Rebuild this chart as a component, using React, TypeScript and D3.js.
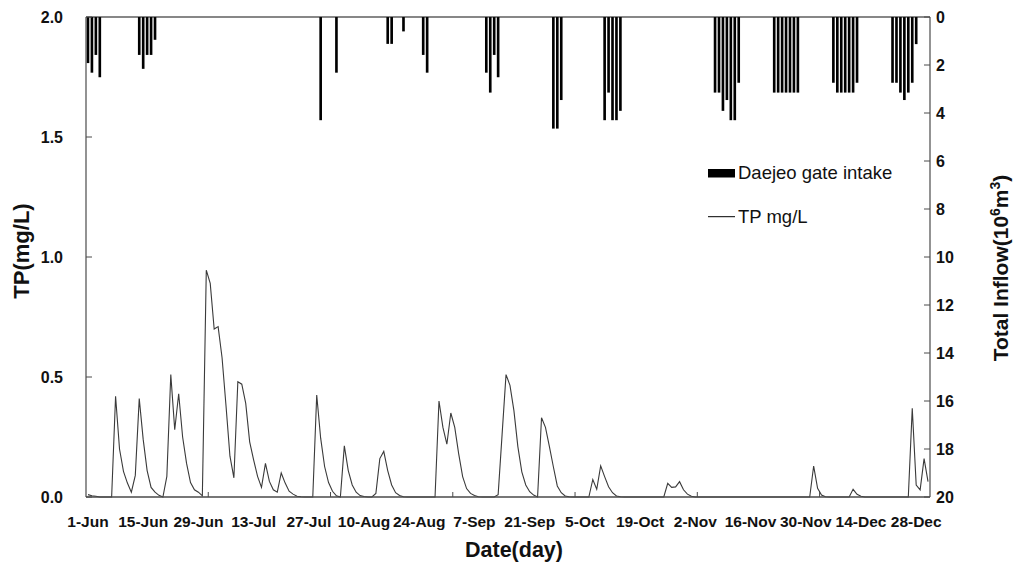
import * as d3 from "d3";

const width = 1022;
const height = 563;
const plot = { left: 86, right: 930, top: 17, bottom: 497 };
const font = "'Liberation Sans', Arial, sans-serif";

// TP (mg/L), one value per day, 1-Jun .. 31-Dec
const tpJun = [
  0.01, 0.005, 0.003, 0, 0, 0, 0, 0.42, 0.2, 0.107,
  0.058, 0.02, 0.09, 0.41, 0.24, 0.11, 0.04, 0.02, 0.007, 0,
  0.086, 0.51, 0.28, 0.43, 0.25, 0.14, 0.06, 0.03, 0.02, 0.005,
];
const tpJul = [
  0.945, 0.89, 0.7, 0.71, 0.58, 0.38, 0.17, 0.08, 0.48, 0.47,
  0.39, 0.23, 0.155, 0.086, 0.04, 0.14, 0.065, 0.03, 0.02, 0.1,
  0.058, 0.024, 0.012, 0.003, 0.001, 0, 0, 0, 0.425, 0.245,
  0.127,
];
const tpAug = [
  0.06, 0.024, 0.005, 0, 0.213, 0.11, 0.05, 0.02, 0.006, 0.002,
  0, 0, 0.015, 0.16, 0.19, 0.11, 0.05, 0.018, 0.006, 0.001,
  0, 0, 0, 0, 0, 0, 0, 0, 0.4, 0.29,
  0.22,
];
const tpSep = [
  0.35, 0.29, 0.18, 0.085, 0.035, 0.015, 0.006, 0.001, 0, 0,
  0, 0, 0.01, 0.26, 0.51, 0.465, 0.36, 0.21, 0.105, 0.05,
  0.022, 0.008, 0, 0.33, 0.29, 0.21, 0.126, 0.046, 0.018, 0.004,
];
const tpOct = [
  0.001, 0, 0, 0, 0, 0, 0.073, 0.032, 0.13, 0.085,
  0.043, 0.018, 0.004, 0.001, 0, 0, 0, 0, 0, 0,
  0, 0, 0, 0, 0, 0.057, 0.04, 0.042, 0.064, 0.03,
  0.012,
];
const tpNov = [
  0.003, 0, 0, 0, 0, 0, 0, 0, 0, 0,
  0, 0, 0, 0, 0, 0, 0, 0, 0, 0,
  0, 0, 0, 0, 0, 0, 0, 0, 0, 0,
];
const tpDec = [
  0, 0.129, 0.036, 0.008, 0.001, 0, 0, 0, 0, 0,
  0, 0.032, 0.011, 0.003, 0, 0, 0, 0, 0, 0,
  0, 0, 0, 0, 0, 0, 0.37, 0.05, 0.03, 0.16,
  0.064,
];
const tpValues = [...tpJun, ...tpJul, ...tpAug, ...tpSep, ...tpOct, ...tpNov, ...tpDec];

// Daejeo gate intake (10^6 m3): day index counted from 1-Jun, and volume
const intakeDays = [
  0, 1, 2, 3, 13, 14, 15, 16, 17, 59, 63, 76, 77, 80, 85, 86, 101, 102, 103, 104,
  118, 119, 120, 131, 132, 133, 134, 135, 159, 160, 161, 162, 163, 164, 165,
  174, 175, 176, 177, 178, 179, 180, 189, 190, 191, 192, 193, 194, 195,
  204, 205, 206, 207, 208, 209, 210,
];
const intakeValues = [
  1.92, 2.32, 1.58, 2.51, 1.58, 2.16, 1.58, 1.58, 0.95, 4.3, 2.32, 1.12, 1.12, 0.6, 1.58, 2.32, 2.32, 3.15, 1.58, 2.51,
  4.65, 4.65, 3.46, 4.3, 3.15, 4.3, 4.3, 3.91, 3.15, 3.15, 3.91, 3.46, 4.3, 4.3, 2.74,
  3.15, 3.15, 3.15, 3.15, 3.15, 3.15, 3.15, 2.74, 3.15, 3.15, 3.15, 3.15, 3.15, 2.74,
  2.74, 2.74, 3.15, 3.46, 3.15, 2.74, 1.13,
];

const dateTicks = [
  "1-Jun", "15-Jun", "29-Jun", "13-Jul", "27-Jul", "10-Aug", "24-Aug", "7-Sep",
  "21-Sep", "5-Oct", "19-Oct", "2-Nov", "16-Nov", "30-Nov", "14-Dec", "28-Dec",
];
const tpTicks = [0, 0.5, 1, 1.5, 2];
const inflowTicks = [0, 2, 4, 6, 8, 10, 12, 14, 16, 18, 20];

const fmtDay = d3.timeFormat("%-d-%b");
const days = d3.timeDay.range(new Date(2013, 5, 1), new Date(2014, 0, 1)).map(fmtDay);

export default function App() {
  const x = d3
    .scaleBand<string>()
    .domain(days)
    .range([plot.left, plot.right])
    .paddingInner(0.33)
    .paddingOuter(0.165);
  const bw = x.bandwidth();
  const step = x.step();
  const cx = (label: string) => (x(label) ?? 0) + bw / 2;

  const yTp = d3.scaleLinear().domain([0, 2]).range([plot.bottom, plot.top]);
  const yFlow = d3.scaleLinear().domain([0, 20]).range([plot.top, plot.bottom]);

  const line = d3
    .line<number>()
    .x((_, i) => cx(days[i]))
    .y((d) => yTp(d));

  // small upward marks on the date axis every 31 categories
  const monthMarks = d3.range(31, days.length, 31).map((k) => plot.left + k * step);

  const axisColor = "#4a4a4a";

  return (
    <svg
      width={width}
      height={height}
      style={{ position: "absolute", left: 0, top: 0, background: "#fff" }}
      fontFamily={font}
    >
      {/* bars hanging from the top */}
      {intakeDays.map((d, i) => (
        <rect
          key={"b" + i}
          x={x(days[d])}
          y={plot.top}
          width={bw}
          height={yFlow(intakeValues[i]) - plot.top}
          fill="#000"
        />
      ))}

      {/* TP line */}
      <path d={line(tpValues) ?? ""} fill="none" stroke="#3a3a3a" strokeWidth={1.1} />

      {/* frame / axes */}
      <line x1={plot.left} x2={plot.right} y1={plot.top} y2={plot.top} stroke="#111" strokeWidth={1.2} />
      <line x1={plot.left} x2={plot.right} y1={plot.bottom} y2={plot.bottom} stroke={axisColor} strokeWidth={1.3} />
      <line x1={plot.left} x2={plot.left} y1={plot.top} y2={plot.bottom} stroke={axisColor} strokeWidth={1.2} />
      <line x1={plot.right} x2={plot.right} y1={plot.top} y2={plot.bottom} stroke={axisColor} strokeWidth={1.2} />

      {monthMarks.map((mx, i) => (
        <line key={"m" + i} x1={mx} x2={mx} y1={plot.bottom} y2={plot.bottom - 5} stroke={axisColor} strokeWidth={1} />
      ))}

      {/* left axis */}
      {tpTicks.map((t) => (
        <g key={"l" + t}>
          <line x1={plot.left} x2={plot.left + 6} y1={yTp(t)} y2={yTp(t)} stroke={axisColor} strokeWidth={1} />
          <text x={63} y={yTp(t)} dy="0.36em" textAnchor="end" fontSize={16} fontWeight="bold" fill="#111">
            {t.toFixed(1)}
          </text>
        </g>
      ))}

      {/* right axis */}
      {inflowTicks.map((t) => (
        <g key={"r" + t}>
          <line x1={plot.right - 6} x2={plot.right} y1={yFlow(t)} y2={yFlow(t)} stroke={axisColor} strokeWidth={1} />
          <text x={936} y={yFlow(t)} dy="0.36em" textAnchor="start" fontSize={16} fontWeight="bold" fill="#111">
            {t}
          </text>
        </g>
      ))}

      {/* date labels */}
      {dateTicks.map((lab) => (
        <text key={lab} x={cx(lab)} y={527} textAnchor="middle" fontSize={15.5} fontWeight="bold" fill="#111">
          {lab}
        </text>
      ))}

      {/* axis titles */}
      <text x={514} y={557} textAnchor="middle" fontSize={21.5} fontWeight="bold" fill="#111">
        Date(day)
      </text>
      <text transform="translate(29,251) rotate(-90)" textAnchor="middle" fontSize={22} fontWeight="bold" fill="#111">
        TP(mg/L)
      </text>
      <text transform="translate(1008,268) rotate(-90)" textAnchor="middle" fontSize={21} fontWeight="bold" fill="#111">
        Total Inflow(10
        <tspan fontSize={14} dy={-8}>6</tspan>
        <tspan dy={8}>m</tspan>
        <tspan fontSize={14} dy={-8}>3</tspan>
        <tspan dy={8}>)</tspan>
      </text>

      {/* legend */}
      <rect x={708} y={169} width={27} height={8.5} fill="#000" />
      <text x={738} y={179.3} fontSize={18.5} fill="#111">
        Daejeo gate intake
      </text>
      <line x1={708} x2={735} y1={216.7} y2={216.7} stroke="#000" strokeWidth={1} />
      <text x={738} y={223.3} fontSize={18.5} fill="#111">
        TP mg/L
      </text>
    </svg>
  );
}
